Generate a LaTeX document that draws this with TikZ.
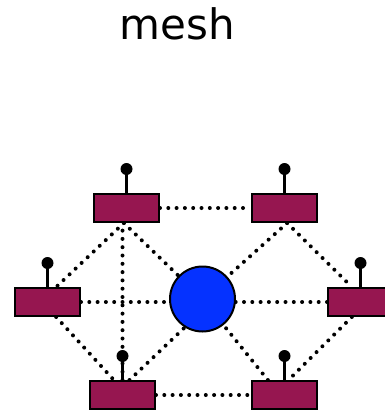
\documentclass[tikz,border=0pt]{standalone}
\usepackage{fontspec}
\setmainfont{DejaVu Sans}
\usepackage{xcolor}
\definecolor{radiored}{RGB}{150,22,80}
\definecolor{hubblue}{RGB}{5,50,255}
\usetikzlibrary{backgrounds}
\newcommand{\widthradio}{65pt}
\newcommand{\heightradio}{28pt}
\newcommand{\heightstem}{24pt}
\tikzset{
    radio/.style={draw, rectangle, line width=2pt, fill=radiored,
        minimum width=\widthradio, minimum height=\heightradio, inner sep=0pt},
    hub/.style={draw, circle, line width=2pt, fill=hubblue, minimum size=65pt, inner sep=0pt},
    link/.style={line width=4pt, line cap=round, dash pattern=on 0pt off 8.3pt},
    stem/.style={line width=2.4pt},
    knob/.style={fill, circle, minimum size=12pt, inner sep=0pt},
    title/.style={anchor=base, font=\fontsize{42}{50}\selectfont}
}

\begin{document}
\begin{tikzpicture}[x=1pt, y=-1pt]
    \useasboundingbox (0,0) rectangle (385,410);

    \node[title] (title) at (177.5,39.5) {mesh};

    % stations round the access point
    \node[radio] (tl) at (126.5,208) {};
    \node[radio] (tr) at (284.5,208) {};
    \node[radio] (l) at (47.5,302) {};
    \node[radio] (r) at (360.5,302) {};
    \node[radio] (bl) at (122.5,395) {};
    \node[radio] (br) at (284.5,395) {};
    \node[hub] (hub) at (202.5,299) {};

    % antennas (a length in pt is not flipped by y=-1pt)
    \foreach \n in {tl,tr,l,r,bl,br}
        \draw[stem] (\n.north) -- ++(0,\heightstem) node[knob] {};

    \begin{scope}[on background layer]
        \draw[link] (tl) -- (tr);
        \draw[link] (bl) -- (br);
        \draw[link] (l) -- (l -| hub);
        \draw[link] (r) -- (r -| hub);
        \draw[link] (bl.north) -- (bl.north |- tl.south);
        \draw[link] (tl.-100) -- (l.60);
        \draw[link] (tl.-100) -- (hub);
        \draw[link] (l.-60) -- (bl.120);
        \draw[link] (bl.65) -- (hub.-122);
        \draw[link] (tr.-80) -- (hub);
        \draw[link] (tr.-80) -- (r.120);
        \draw[link] (r.-120) -- (br.75);
        \draw[link] (br.138) -- (hub);
    \end{scope}
\end{tikzpicture}
\end{document}
